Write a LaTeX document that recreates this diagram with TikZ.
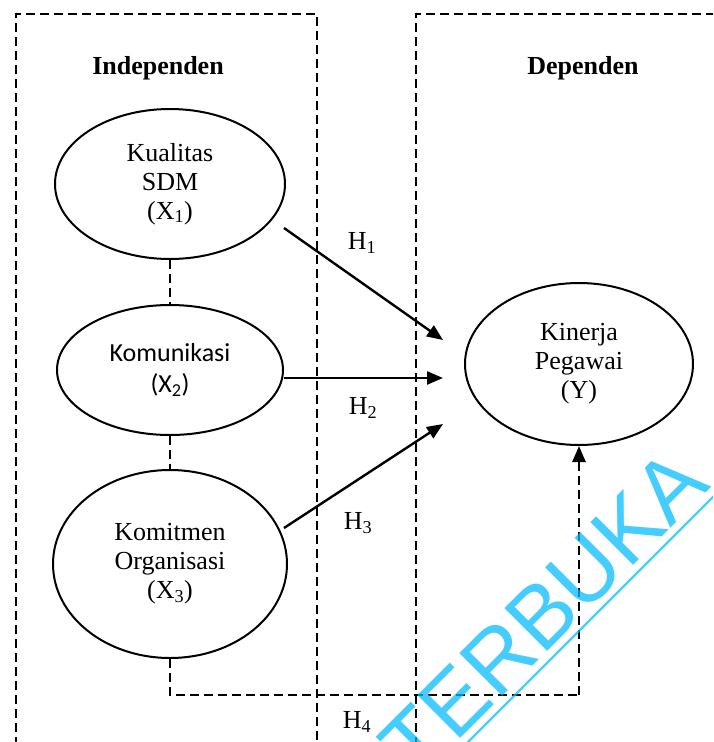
\documentclass[tikz,border=0pt]{standalone}
\usepackage{fontspec}
\setmainfont{Liberation Serif}
\newfontfamily\calibrifont{Carlito}
\newfontfamily\wmfont{Liberation Sans}
\usetikzlibrary{shapes.geometric,arrows.meta}
\definecolor{wmcol}{RGB}{8,188,255}
\begin{document}
\begin{tikzpicture}[x=1pt,y=-1pt,
  dashline/.style={line width=2.6pt, dash pattern=on 9pt off 5pt},
  var/.style={ellipse, draw, line width=2pt, inner sep=0pt, align=center,
    font=\fontsize{26}{29}\selectfont},
  arr/.style={line width=2.4pt, -{Triangle[length=16pt,width=13pt]}},
  hlab/.style={font=\fontsize{26}{28}\selectfont, inner sep=0pt},
  title/.style={font=\bfseries\fontsize{26}{28}\selectfont, inner sep=0pt}]
\useasboundingbox (0,0) rectangle (713,742);
\clip (0,0) rectangle (713,742);

% boxes
\draw[dashline] (16,760) -- (16,14) -- (317,14) -- (317,760);
\draw[dashline] (416,760) -- (416,14) -- (730,14);

\node[title] (ind) at (158,68) {Independen};
\node[title] (dep) at (583,68) {Dependen};

% variables
\node[var, minimum width=230pt, minimum height=150pt] (x1) at (170,184)
  {Kualitas\\SDM\\(X\textsubscript{1})};
\node[var, minimum width=226pt, minimum height=130pt, font=\calibrifont\fontsize{26}{31}\selectfont] (x2) at (170,370)
  {Komunikasi\\(X\textsubscript{2})};
\node[var, minimum width=234pt, minimum height=188pt] (x3) at (170,564)
  {Komitmen\\Organisasi\\(X\textsubscript{3})};
\node[var, minimum width=228pt, minimum height=162pt] (y) at (579,364)
  {Kinerja\\Pegawai\\(Y)};

% correlations
\draw[dashline] (x1.south) -- (x2.north);
\draw[dashline] (x2.south) -- (x3.north);

% H4 path
\coordinate (c1) at (170,695);
\coordinate (c2) at (579,695);
\draw[dashline] (x3.south) -- (c1) -- (c2);
\draw[dashline, -{Triangle[length=16pt,width=13pt]}] (c2) -- (y.south);

% arrows
\coordinate (h1s) at (284,228);
\coordinate (h1e) at (443,340);
\coordinate (h2s) at (284,378);
\coordinate (h2e) at (443,378);
\coordinate (h3s) at (284,528);
\coordinate (h3e) at (443,424);
\draw[arr] (h1s) -- (h1e);
\draw[arr] (h2s) -- (h2e);
\draw[arr] (h3s) -- (h3e);

\node[hlab] (l1) at (362,243) {H\textsubscript{1}};
\node[hlab] (l2) at (363,408) {H\textsubscript{2}};
\node[hlab] (l3) at (358,523) {H\textsubscript{3}};
\node[hlab] (l4) at (357,722) {H\textsubscript{4}};

% watermark
\begin{scope}[opacity=0.75]
\node[rotate=45, anchor=base east, text=wmcol, inner sep=0pt,
  font=\wmfont\fontsize{88}{88}\selectfont] (wm) at (712,487) {TERBUKA};
\coordinate (u1) at (455,755);
\coordinate (u2) at (725,485);
\draw[wmcol, line width=2.2pt] (u1) -- (u2);
\end{scope}
\end{tikzpicture}
\end{document}
